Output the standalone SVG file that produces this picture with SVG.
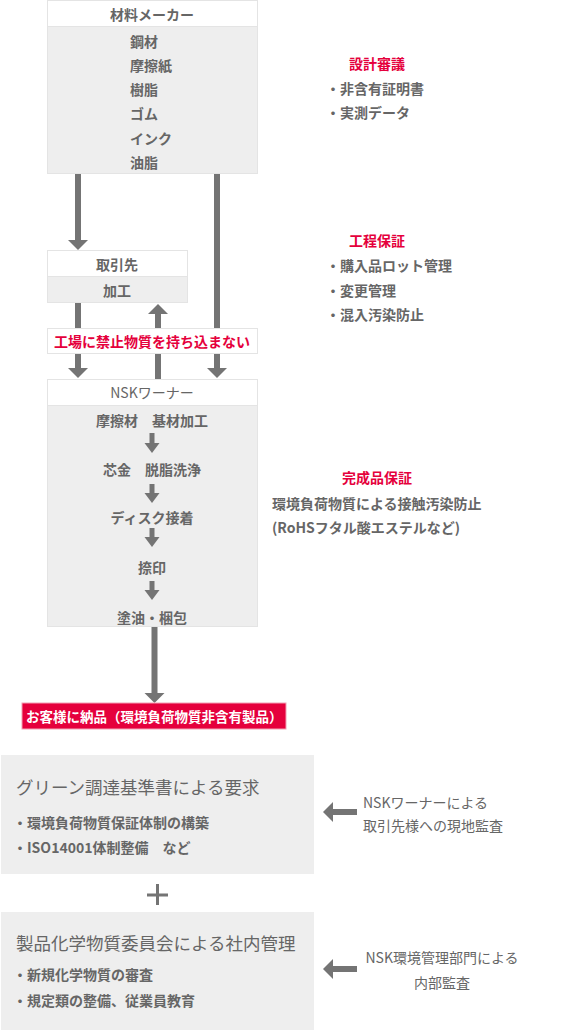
<svg xmlns="http://www.w3.org/2000/svg" width="587" height="1031" viewBox="0 0 587 1031">
<style>
text{font-family:"Noto Sans CJK JP","Noto Sans",sans-serif;font-size:14px;fill:#666;dominant-baseline:central}
.b{font-weight:bold}
.r{fill:#e5003c;font-weight:bold}
.c{text-anchor:middle}
.w{fill:#fff;font-weight:bold}
.hd{fill:#fff;stroke:#e4e4e4;stroke-width:1}
.bd{fill:#eee;stroke:#e4e4e4;stroke-width:1}
.ar{fill:#747474}
.big{font-size:17.5px}
</style>
<rect width="587" height="1031" fill="#fff"/>
<g id="maker">
<rect class="bd" x="47.5" y="0.5" width="210" height="173"/>
<rect class="hd" x="47.5" y="0.5" width="210" height="26"/>
<text class="b c" x="152" y="14">材料メーカー</text>
<text class="b" x="130" y="41">鋼材</text>
<text class="b" x="130" y="65">摩擦紙</text>
<text class="b" x="130" y="89">樹脂</text>
<text class="b" x="130" y="113">ゴム</text>
<text class="b" x="130" y="138">インク</text>
<text class="b" x="130" y="162">油脂</text>
</g>
<g id="supplier">
<rect class="bd" x="47.5" y="250.5" width="140" height="52"/>
<rect class="hd" x="47.5" y="250.5" width="140" height="26"/>
<text class="b c" x="117" y="264">取引先</text>
<text class="b c" x="117" y="290">加工</text>
</g>
<g id="nsk">
<rect class="bd" x="47.5" y="379.5" width="210" height="247"/>
<rect class="hd" x="47.5" y="379.5" width="210" height="26"/>
<text class="c" x="152" y="392">NSKワーナー</text>
<text class="b c" x="152" y="420">摩擦材　基材加工</text>
<text class="b c" x="152" y="469">芯金　脱脂洗浄</text>
<text class="b c" x="152" y="517">ディスク接着</text>
<text class="b c" x="152" y="567">捺印</text>
<text class="b c" x="152" y="617">塗油・梱包</text>
</g>
<g id="connectors">
<rect class="ar" x="75" y="174" width="6" height="67"/><polygon class="ar" points="68,240 88,240 78,250"/>
<rect class="ar" x="214" y="174" width="6" height="195"/><polygon class="ar" points="207,368 227,368 217,378"/>
<rect class="ar" x="75" y="303" width="6" height="66"/><polygon class="ar" points="68,368 88,368 78,378"/>
<rect class="ar" x="155" y="313" width="6" height="66"/><polygon class="ar" points="148,314 168,314 158,304"/>
<rect class="ar" x="151.5" y="627" width="6" height="67"/><polygon class="ar" points="144.5,693 164.5,693 154.5,703"/>
<rect class="ar" x="149.5" y="433" width="5" height="11"/><polygon class="ar" points="144.5,443 159.5,443 152,453"/>
<rect class="ar" x="149.5" y="484" width="5" height="10"/><polygon class="ar" points="144.5,493 159.5,493 152,503"/>
<rect class="ar" x="149.5" y="528" width="5" height="10"/><polygon class="ar" points="144.5,537 159.5,537 152,547"/>
<rect class="ar" x="149.5" y="581" width="5" height="10"/><polygon class="ar" points="144.5,590 159.5,590 152,600"/>
<rect class="ar" x="333" y="809" width="24" height="6"/><polygon class="ar" points="323,812 333,802 333,822"/>
<rect class="ar" x="333" y="966" width="24" height="6"/><polygon class="ar" points="323,969 333,959 333,979"/>
<g fill="#747474"><rect x="147" y="893.5" width="21" height="3"/><rect x="156" y="884" width="3" height="21"/></g>
</g>
<g id="ban">
<rect class="hd" x="47.5" y="328.5" width="210" height="25"/>
<text class="r c" x="152" y="341">工場に禁止物質を持ち込まない</text>
</g>
<g id="delivery">
<rect x="22" y="703" width="264" height="26" fill="#e5003c" stroke="#f2a0b4" stroke-width="1"/>
<text class="w" x="26" y="716" style="font-size:13.5px">お客様に納品（環境負荷物質非含有製品）</text>
</g>
<g id="design">
<text class="r c" x="377" y="63">設計審議</text>
<text class="b" x="326" y="88">・非含有証明書</text>
<text class="b" x="326" y="112">・実測データ</text>
</g>
<g id="process">
<text class="r c" x="377" y="240">工程保証</text>
<text class="b" x="326" y="265">・購入品ロット管理</text>
<text class="b" x="326" y="290">・変更管理</text>
<text class="b" x="326" y="314">・混入汚染防止</text>
</g>
<g id="final">
<text class="r c" x="377" y="477">完成品保証</text>
<text class="b" x="272" y="503">環境負荷物質による接触汚染防止</text>
<text class="b" x="272" y="527">(RoHSフタル酸エステルなど)</text>
</g>
<g id="green">
<rect x="1" y="755" width="313" height="119" fill="#eee"/>
<text class="big" x="16" y="786">グリーン調達基準書による要求</text>
<text class="b" x="13" y="822">・環境負荷物質保証体制の構築</text>
<text class="b" x="13" y="847">・ISO14001体制整備　など</text>
</g>
<g id="internal">
<rect x="1" y="912" width="313" height="118" fill="#eee"/>
<text class="big" x="16" y="942">製品化学物質委員会による社内管理</text>
<text class="b" x="13" y="974">・新規化学物質の審査</text>
<text class="b" x="13" y="1000">・規定類の整備、従業員教育</text>
</g>
<g id="audit1">
<text x="363" y="802">NSKワーナーによる</text>
<text x="363" y="825">取引先様への現地監査</text>
</g>
<g id="audit2">
<text class="c" x="442" y="957">NSK環境管理部門による</text>
<text class="c" x="442" y="982">内部監査</text>
</g>
</svg>
